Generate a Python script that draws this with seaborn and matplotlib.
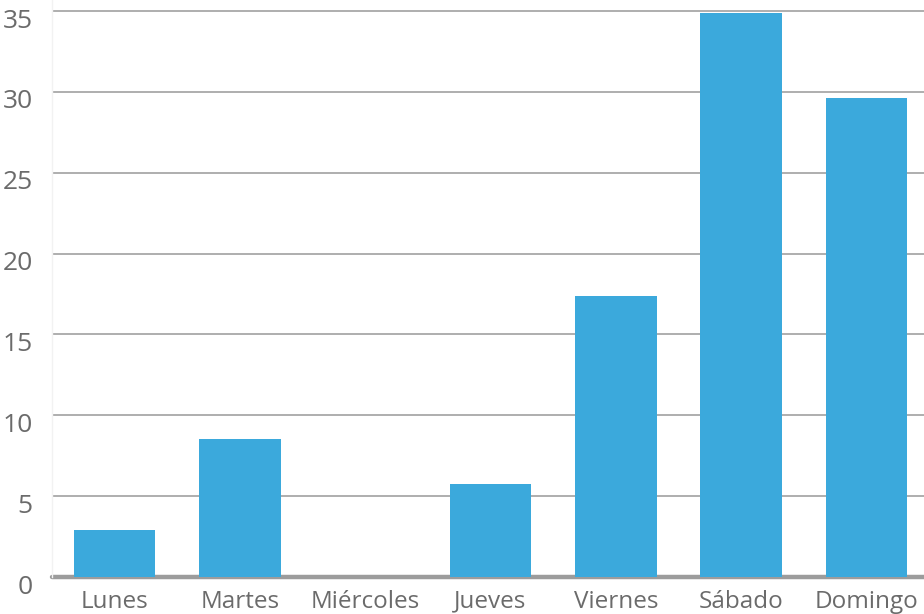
import matplotlib
matplotlib.use("Agg")
import matplotlib.pyplot as plt
import matplotlib.transforms as mtransforms
import seaborn as sns
import pandas as pd

dias = ["Lunes", "Martes", "Miércoles", "Jueves", "Viernes", "Sábado", "Domingo"]
valores = [2.9, 8.55, 0.0, 5.75, 17.35, 34.85, 29.65]
y_ticks = [0, 5, 10, 15, 20, 25, 30, 35]

df = pd.DataFrame({"dia": dias, "valor": valores})

sns.set_style("white")
plt.rcParams["font.family"] = ["Open Sans", "DejaVu Sans"]

W, H = 924, 614
fig = plt.figure(figsize=(W / 100, H / 100), dpi=100)
left_px, bottom_px = 52, 37
ax = fig.add_axes([left_px / W, bottom_px / H, 1 - left_px / W, 1 - bottom_px / H])

sns.barplot(data=df, x="dia", y="valor", color="#3BA9DC", saturation=1,
            width=0.65, linewidth=0, edgecolor="none", ax=ax, zorder=3)

# y scale: 35 units span 566 px
unit_px = 566 / 35
ax.set_ylim(0, (H - bottom_px) / unit_px)
ax.set_xlim(-0.5, 6.46)

ax.set_yticks(y_ticks)
ax.set_yticklabels([str(t) for t in y_ticks])
for t in y_ticks[1:]:
    ax.axhline(t, color="#a8a8a8", lw=1.3, zorder=1)
ax.axhline(0, color="#9c9c9c", lw=3.2, zorder=2, clip_on=False)

ax.set_xlabel("")
ax.set_ylabel("")
ax.tick_params(axis="both", length=0, labelcolor="#6b6b6b")
ax.tick_params(axis="y", pad=14, labelsize=19)
ax.tick_params(axis="x", pad=9, labelsize=17.5)

# nudge y labels slightly below their gridlines
offset = mtransforms.ScaledTranslation(0, -7 / 100, fig.dpi_scale_trans)
for lbl in ax.get_yticklabels():
    lbl.set_transform(lbl.get_transform() + offset)

for side in ["top", "right", "bottom"]:
    ax.spines[side].set_visible(False)
ax.spines["left"].set_color("#f2f2f2")
ax.spines["left"].set_linewidth(1)

fig.savefig("out.png", dpi=100, facecolor="white")
